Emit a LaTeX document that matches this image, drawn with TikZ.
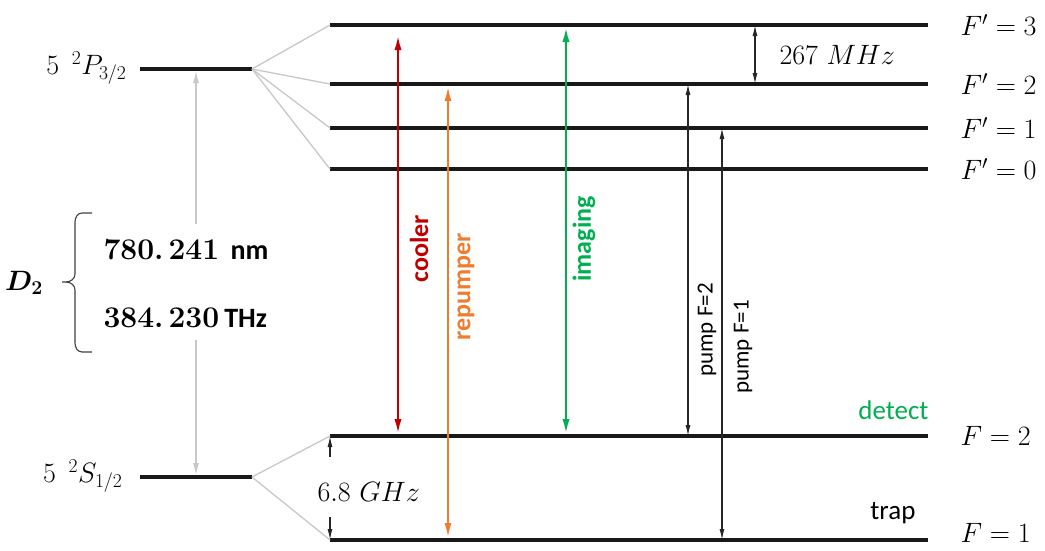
\RequirePackage{fix-cm}
\documentclass[tikz,border=0pt]{standalone}
\usepackage{amsmath}
\usepackage{fontspec}
\newfontfamily\calib{Carlito}
\usetikzlibrary{arrows.meta}
\definecolor{coolred}{HTML}{C00000}
\definecolor{reporange}{HTML}{ED7D31}
\definecolor{imggreen}{HTML}{00B050}
\definecolor{fangray}{HTML}{C8C8C8}
\begin{document}
\begin{tikzpicture}[x=1pt,y=-1pt,
  lvl/.style={line width=3.6pt,black!90},
  fine/.style={line width=4.5pt,black!90},
  fan/.style={fangray,line width=1.3pt},
  laser/.style={line width=2.8pt,{Latex[length=17pt,width=7pt]}-{Latex[length=17pt,width=7pt]}},
  thin/.style={line width=1.2pt,black!85,{Latex[length=11pt,width=5pt]}-{Latex[length=11pt,width=5pt]}},
  gaparrow/.style={fangray,line width=1.3pt,-{Latex[length=12pt,width=6pt]}},
  mlabel/.style={font=\fontsize{28}{30}\selectfont},
  slabel/.style={font=\calib\bfseries\fontsize{26}{28}\selectfont,rotate=90},
  plabel/.style={font=\calib\fontsize{23}{25}\selectfont,rotate=90},
  tlabel/.style={font=\calib\fontsize{27}{29}\selectfont}]
\useasboundingbox (0,0) rectangle (1045,550);
% fine levels
\coordinate (P) at (252,69);
\coordinate (S) at (252,477);
\draw[fine] (140,69) -- (P);
\draw[fine] (140,477) -- (S);
% hyperfine levels
\foreach \n/\y in {Fp3/25,Fp2/84,Fp1/128,Fp0/169,F2/436,F1/540}{
  \coordinate (\n L) at (330,\y);
  \coordinate (\n R) at (928,\y);
  \draw[lvl] (\n L) -- (\n R);
}
% fan lines
\foreach \n in {Fp3,Fp2,Fp1,Fp0}{\draw[fan] (P) -- (\n L);}
\foreach \n in {F2,F1}{\draw[fan] (S) -- (\n L);}
% D2 gray arrow
\coordinate (Pa) at (196,71);
\coordinate (Sa) at (196,475);
\coordinate (ga) at (196,224);
\coordinate (gb) at (196,340);
\draw[gaparrow] (ga) -- (Pa);
\draw[gaparrow] (gb) -- (Sa);
% brace
\draw[line width=1.1pt,black!75] (92,213) -- (82,213) to[out=180,in=90] (75,222) -- (75,274) to[out=-90,in=0] (66,282) -- (62,282);
\draw[line width=1.1pt,black!75] (92,352) -- (82,352) to[out=180,in=-90] (75,343) -- (75,290) to[out=90,in=0] (66,282);
\node[mlabel,anchor=east,inner sep=0pt] (D2) at (43,283) {$\boldsymbol{D_2}$};
\node[anchor=west,font=\fontsize{30}{32}\selectfont] (nm) at (100,250) {\bfseries 780.\,241\ {\calib\fontsize{28}{30}\selectfont nm}};
\node[anchor=west,font=\fontsize{30}{32}\selectfont] (THz) at (100,318) {\bfseries 384.\,230\,{\calib\fontsize{28}{30}\selectfont THz}};
% fine labels
\node[mlabel,anchor=east] (Plab) at (130,68) {$5\hspace{0.45em}{}^2P_{3/2}$};
\node[mlabel,anchor=east] (Slab) at (126,476) {$5\hspace{0.45em}{}^2S_{1/2}$};
% hyperfine labels
\node[mlabel,anchor=west] at (957,25) {$F' = 3$};
\node[mlabel,anchor=west] at (957,84) {$F' = 2$};
\node[mlabel,anchor=west] at (957,128) {$F' = 1$};
\node[mlabel,anchor=west] at (957,169) {$F' = 0$};
\node[mlabel,anchor=west] at (957,436) {$F = 2$};
\node[mlabel,anchor=west] at (957,533) {$F = 1$};
% lasers
\coordinate (cT) at (398,33); \coordinate (cB) at (398,436);
\draw[laser,coolred] (cB) -- (cT);
\node[slabel,text=coolred] at (419,249) {cooler};
\coordinate (rT) at (448,84); \coordinate (rB) at (448,540);
\draw[laser,reporange] (rB) -- (rT);
\node[slabel,text=reporange] at (466,287) {repumper};
\coordinate (iT) at (566,25); \coordinate (iB) at (566,436);
\draw[laser,imggreen] (iB) -- (iT);
\node[slabel,text=imggreen] at (584,239) {imaging};
% pumps
\coordinate (p2T) at (688,84); \coordinate (p2B) at (688,436);
\draw[thin] (p2B) -- (p2T);
\node[plabel] at (707,330) {pump F=2};
\coordinate (p1T) at (722,128); \coordinate (p1B) at (722,540);
\draw[thin] (p1B) -- (p1T);
\node[plabel] at (743,347) {pump F=1};
% 267 MHz
\coordinate (m3) at (755,25); \coordinate (m2) at (755,84);
\draw[thin] (m2) -- (m3);
\node[mlabel,anchor=west] at (776,55) {$267\ MHz$};
% 6.8 GHz
\coordinate (g2) at (330,436); \coordinate (g1) at (330,540);
\coordinate (g2s) at (330,457); \coordinate (g1s) at (330,517);
\draw[line width=1.2pt,black!85,-{Latex[length=11pt,width=5pt]}] (g2s) -- (g2);
\draw[line width=1.2pt,black!85,-{Latex[length=11pt,width=5pt]}] (g1s) -- (g1);
\node[mlabel,anchor=west] at (314,492) {$6.8\ GHz$};
% detect / trap
\node[tlabel,text=imggreen,anchor=east] at (932,410) {detect};
\node[tlabel,anchor=east] at (919,513) {trap};
\end{tikzpicture}
\end{document}
